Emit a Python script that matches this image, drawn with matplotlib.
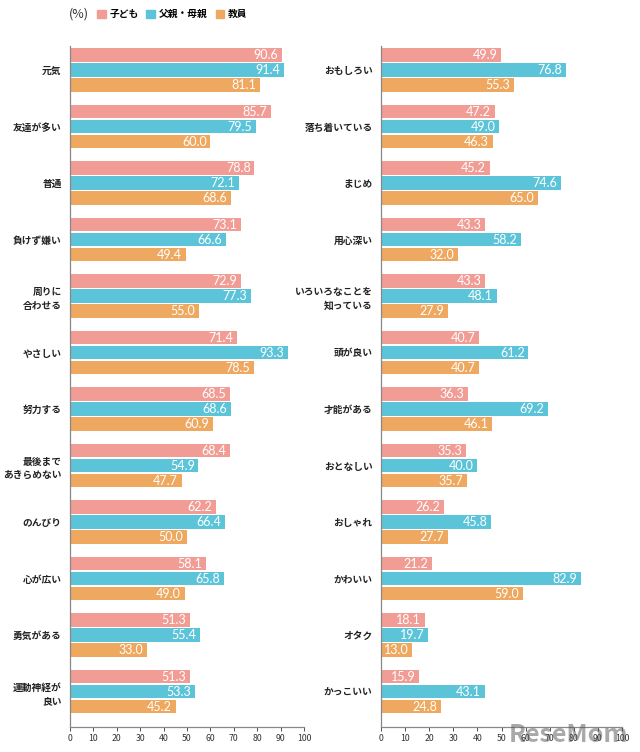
import numpy as np
import matplotlib.pyplot as plt
from matplotlib.patches import Patch

plt.rcParams['font.family'] = ['Noto Sans CJK JP', 'DejaVu Sans']

series_names = ["子ども", "父親・母親", "教員"]
colors = ["#F19D95", "#5CC4D9", "#EEA85F"]

left_cats = ["元気", "友達が多い", "普通", "負けず嫌い", "周りに\n合わせる", "やさしい",
             "努力する", "最後まで\nあきらめない", "のんびり", "心が広い", "勇気がある",
             "運動神経が\n良い"]
left_child = [90.6, 85.7, 78.8, 73.1, 72.9, 71.4, 68.5, 68.4, 62.2, 58.1, 51.3, 51.3]
left_parent = [91.4, 79.5, 72.1, 66.6, 77.3, 93.3, 68.6, 54.9, 66.4, 65.8, 55.4, 53.3]
left_teacher = [81.1, 60.0, 68.6, 49.4, 55.0, 78.5, 60.9, 47.7, 50.0, 49.0, 33.0, 45.2]

right_cats = ["おもしろい", "落ち着いている", "まじめ", "用心深い", "いろいろなことを\n知っている",
              "頭が良い", "才能がある", "おとなしい", "おしゃれ", "かわいい", "オタク", "かっこいい"]
right_child = [49.9, 47.2, 45.2, 43.3, 43.3, 40.7, 36.3, 35.3, 26.2, 21.2, 18.1, 15.9]
right_parent = [76.8, 49.0, 74.6, 58.2, 48.1, 61.2, 69.2, 40.0, 45.8, 82.9, 19.7, 43.1]
right_teacher = [55.3, 46.3, 65.0, 32.0, 27.9, 40.7, 46.1, 35.7, 27.7, 59.0, 13.0, 24.8]

xticks = [0, 10, 20, 30, 40, 50, 60, 70, 80, 90, 100]

fig = plt.figure(figsize=(6.4, 7.52), dpi=100)
ax1 = fig.add_axes([70/640, 0.0332, 234/640, 0.9056])
ax2 = fig.add_axes([381/640, 0.0332, 241/640, 0.9056])


def draw(ax, cats, vals):
    y = np.arange(len(cats))
    pitch = 0.265
    h = 0.245
    for k, (v, c) in enumerate(zip(vals, colors)):
        yy = y + (k - 1) * pitch
        ax.barh(yy, v, height=h, color=c)
        for yi, vi in zip(yy, v):
            ax.text(vi - 1.6, yi, "%.1f" % vi, ha="right", va="center",
                    color="white", fontsize=9, family="Lato")
    ax.set_yticks(y)
    ax.set_yticklabels(cats, fontsize=7, fontweight="bold", color="#222222",
                       linespacing=1.45)
    ax.tick_params(axis="y", length=0, pad=6)
    ax.set_ylim(11.628, -0.425)
    ax.set_xlim(0, 100)
    ax.set_xticks(xticks)
    ax.tick_params(axis="x", labelsize=6.3, colors="#333333", length=3,
                   width=0.6, pad=2, direction="out")
    for s in ["top", "right"]:
        ax.spines[s].set_visible(False)
    for s in ["left", "bottom"]:
        ax.spines[s].set_color("#888888")
        ax.spines[s].set_linewidth(0.9)


draw(ax1, left_cats, [left_child, left_parent, left_teacher])
draw(ax2, right_cats, [right_child, right_parent, right_teacher])

fig.text(69/640, 1 - 14/752, "(%)", fontsize=9, color="#333333", va="center")
handles = [Patch(color=c) for c in colors]
fig.legend(handles, series_names, loc="center left", bbox_to_anchor=(88/640, 1 - 14/752),
           ncol=3, frameon=False, handlelength=0.9, handleheight=0.9,
           handletextpad=0.4, columnspacing=0.8, prop={"weight": "bold", "size": 7})

fig.text(0.982, 0.006, "ReseMom", fontsize=18, fontweight="bold", color="#555555",
         alpha=0.5, ha="right", va="bottom")

fig.savefig("out.png", dpi=100)
